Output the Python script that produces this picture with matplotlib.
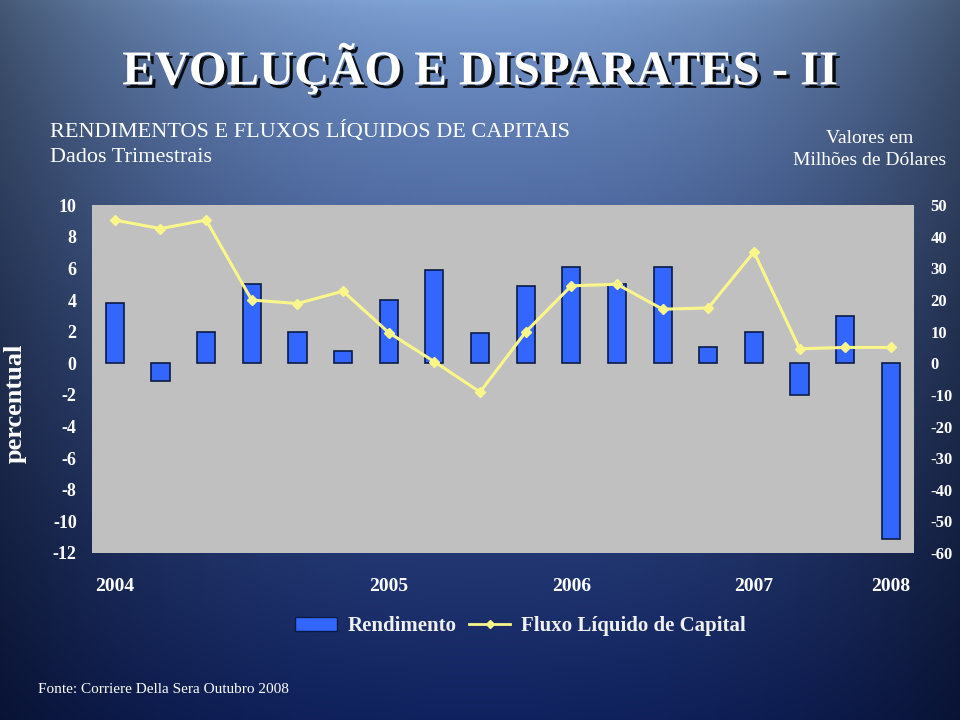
import numpy as np
import matplotlib.pyplot as plt
import matplotlib.patheffects as pe
from matplotlib.lines import Line2D
from matplotlib.patches import Patch

# Quarterly data, 2004 Q1 .. 2008 Q2
quarters = ["2004T1", "2004T2", "2004T3", "2004T4",
            "2005T1", "2005T2", "2005T3", "2005T4",
            "2006T1", "2006T2", "2006T3", "2006T4",
            "2007T1", "2007T2", "2007T3", "2007T4",
            "2008T1", "2008T2"]
rendimento = [3.8, -1.1, 2.0, 5.0, 2.0, 0.8, 4.0, 5.9, 1.9,
              4.9, 6.1, 5.0, 6.1, 1.0, 2.0, -2.0, 3.0, -11.1]
fluxo = [45.3, 42.6, 45.3, 20.0, 18.9, 22.8, 9.7, 0.5, -9.1,
         9.9, 24.5, 25.0, 17.1, 17.5, 35.2, 4.6, 5.0, 5.0]

year_labels = ["2004", "2005", "2006", "2007", "2008"]
year_pos = [0, 6, 10, 14, 17]

left_ticks = list(range(-12, 11, 2))
right_ticks = list(range(-60, 51, 10))

SERIF = ["Liberation Serif", "DejaVu Serif"]
plt.rcParams["font.family"] = SERIF
plt.rcParams["axes.unicode_minus"] = False

fig = plt.figure(figsize=(9.6, 7.2), dpi=100)

# slide background: light blue at top centre fading to navy
bg = fig.add_axes([0, 0, 1, 1], zorder=-10)
bg.set_axis_off()
h, w = 360, 480
yy, xx = np.mgrid[0:h, 0:w]
ty = (yy / (h - 1)) ** 0.7
dx = np.abs(xx / (w - 1) - 0.5) * 2
top = np.array([128, 163, 214]) / 255
bot = np.array([16, 34, 95]) / 255
img = top[None, None, :] * (1 - ty[..., None]) + bot[None, None, :] * ty[..., None]
shade = 1 - 0.45 * dx ** 2.2
img = img * shade[..., None]
bg.imshow(np.clip(img, 0, 1), aspect="auto", extent=[0, 1, 0, 1])
bg.set_xlim(0, 1)
bg.set_ylim(0, 1)

ax = fig.add_axes([0.0958, 0.232, 0.856, 0.483])
ax.set_facecolor("#c0c0c0")
x = np.arange(len(quarters))
ax.bar(x, rendimento, width=0.4, color="#3366ff", edgecolor="#0b1a45",
       linewidth=1.2, zorder=2)
ax.set_xlim(-0.5, len(quarters) - 0.5)
ax.set_ylim(-12, 10)
ax.set_yticks(left_ticks)
ax.set_xticks(year_pos)
ax.set_xticklabels(year_labels)
for s in ax.spines.values():
    s.set_visible(False)
ax.tick_params(axis="y", length=0, pad=11, labelsize=13, colors="white")
ax.tick_params(axis="x", length=0, pad=18, labelsize=14, colors="white")
for lab in ax.get_yticklabels() + ax.get_xticklabels():
    lab.set_fontweight("bold")

ax2 = ax.twinx()
ax2.plot(x, fluxo, color="#fbf68a", linewidth=2.2, marker="D",
         markersize=5, zorder=3)
ax2.set_ylim(-60, 50)
ax2.set_yticks(right_ticks)
for s in ax2.spines.values():
    s.set_visible(False)
ax2.tick_params(axis="y", length=0, pad=12, labelsize=12, colors="white")
for lab in ax2.get_yticklabels():
    lab.set_fontweight("bold")

fig.text(0.016, 0.44, "percentual", rotation=90, ha="center", va="center",
         fontsize=19, fontweight="bold", color="white")

# titles
fig.text(0.5, 0.905, "EVOLUÇÃO E DISPARATES - II", ha="center", va="center",
         fontsize=35, fontweight="bold", color="white",
         path_effects=[pe.withSimplePatchShadow(offset=(2.5, -2.5),
                                                shadow_rgbFace="black",
                                                alpha=0.9)])
fig.text(0.052, 0.818, "RENDIMENTOS E FLUXOS LÍQUIDOS DE CAPITAIS",
         ha="left", va="center", fontsize=16, color="white")
fig.text(0.052, 0.781, "Dados Trimestrais", ha="left", va="center",
         fontsize=16, color="white")
fig.text(0.906, 0.808, "Valores em", ha="center", va="center",
         fontsize=14, color="white")
fig.text(0.906, 0.777, "Milhões de Dólares", ha="center", va="center",
         fontsize=14, color="white")

handles = [Patch(facecolor="#3366ff", edgecolor="#0b1a45", linewidth=1),
           Line2D([], [], color="#fbf68a", linewidth=2, marker="D",
                  markersize=4)]
leg = fig.legend(handles, ["Rendimento", "Fluxo Líquido de Capital"],
                 loc="center", bbox_to_anchor=(0.542, 0.13), ncol=2,
                 frameon=False, handlelength=2.0, handletextpad=0.5,
                 columnspacing=0.6,
                 prop={"family": SERIF, "size": 15, "weight": "bold"})
for t in leg.get_texts():
    t.set_color("#f0f0f0")

fig.text(0.04, 0.043, "Fonte: Corriere Della Sera Outubro 2008", ha="left",
         va="center", fontsize=11, color="white")

fig.savefig("out.png", dpi=100)
